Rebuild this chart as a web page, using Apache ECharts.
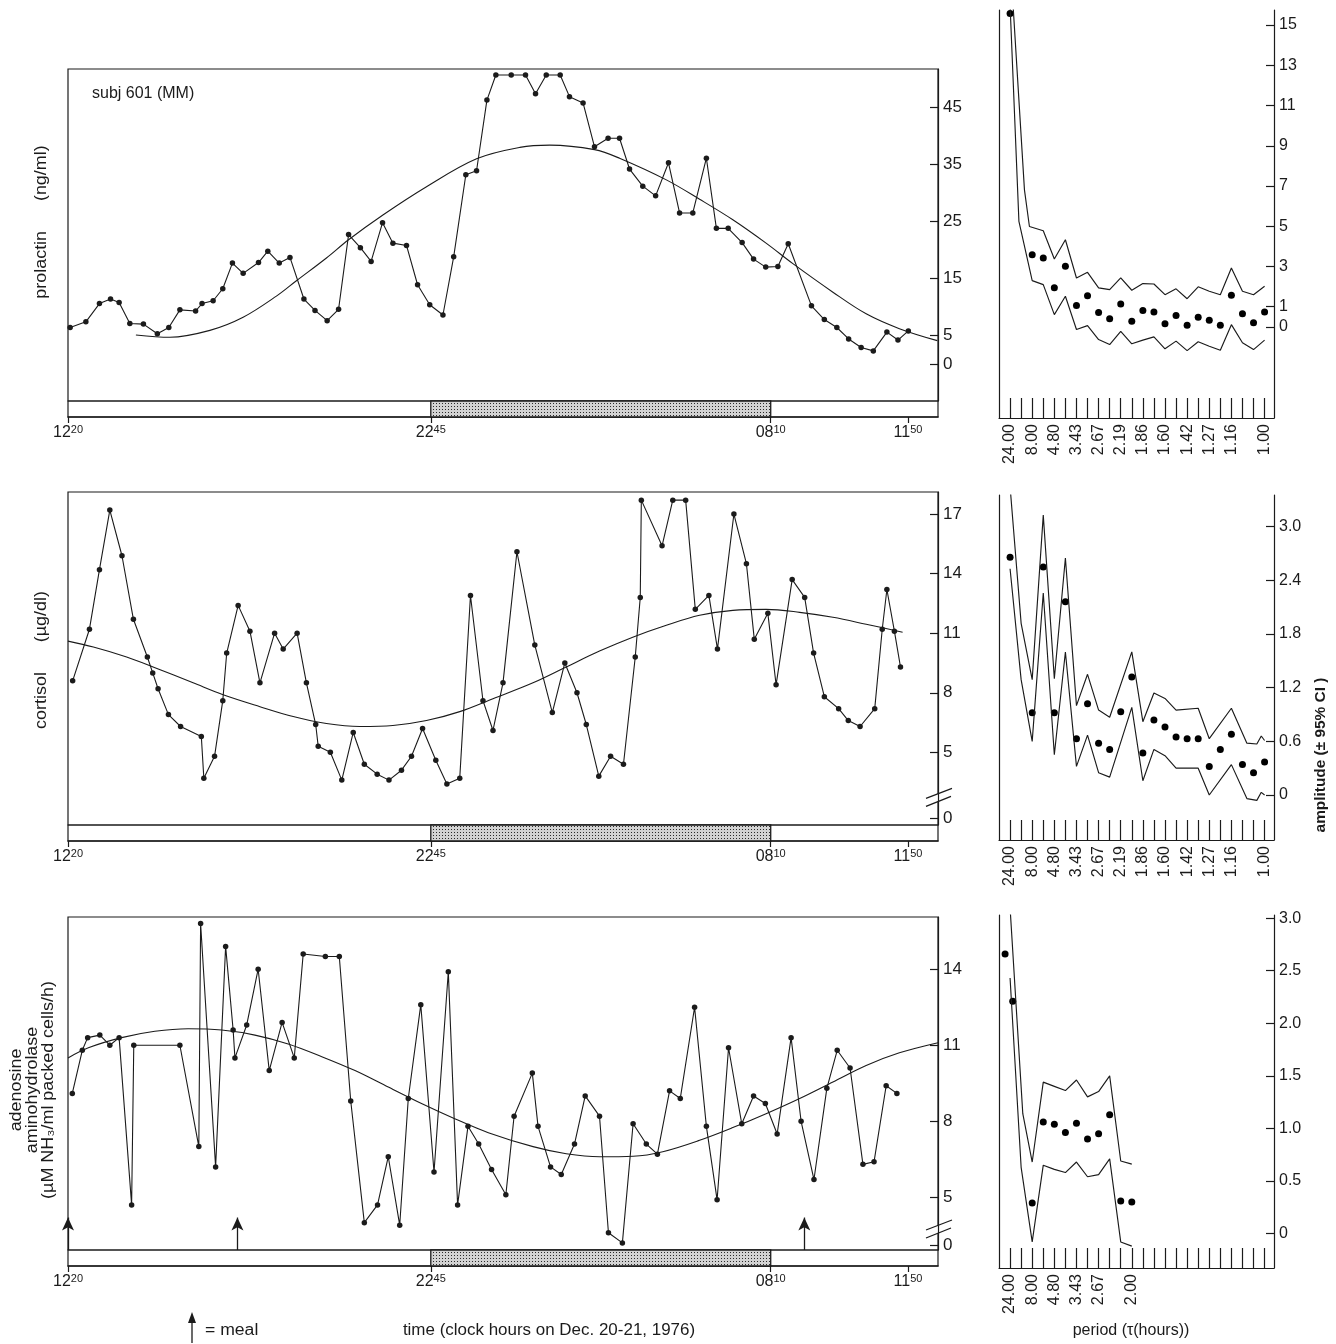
<!DOCTYPE html>
<html><head><meta charset="utf-8">
<script src="https://cdn.jsdelivr.net/npm/echarts@6/dist/echarts.min.js"></script>
<style>html,body{margin:0;padding:0;background:#fff}#c{width:1336px;height:1344px}</style>
</head><body><div id="c"></div>
<script>
// ---------------- data (time in hours after 12:20) ----------------
const timeTickValues = [0, 10.15, 19.66, 23.5];
const timeTickLabels = [['12','20'],['22','45'],['08','10'],['11','50']];
const darkPeriod = [10.15, 19.66];
const mealTimes = [0, 4.74, 20.6];

const prolactinT = [0.06,0.50,0.88,1.19,1.43,1.73,2.11,2.50,2.82,3.13,3.57,3.75,4.06,4.33,4.60,4.90,5.33,5.59,5.91,6.21,6.60,6.91,7.25,7.57,7.85,8.18,8.48,8.80,9.09,9.47,9.78,10.12,10.49,10.79,11.13,11.43,11.72,11.97,12.40,12.80,13.08,13.38,13.77,14.03,14.41,14.73,15.11,15.43,15.71,16.08,16.44,16.80,17.11,17.48,17.86,18.14,18.47,18.86,19.18,19.52,19.86,20.15,20.80,21.16,21.51,21.84,22.19,22.53,22.91,23.22,23.51];
const prolactinV = [6.4,7.4,10.6,11.4,10.8,7.1,7.0,5.3,6.4,9.5,9.3,10.6,11.1,13.2,17.7,15.9,17.8,19.8,17.7,18.7,11.4,9.4,7.6,9.6,22.7,20.4,18.0,24.8,21.2,20.8,13.9,10.4,8.6,18.8,33.2,33.9,46.3,50.7,50.7,50.7,47.4,50.7,50.7,46.9,45.8,38.1,39.6,39.6,34.2,31.2,29.5,35.3,26.5,26.5,36.1,23.8,23.8,21.3,18.4,17.0,17.1,21.1,10.2,7.8,6.4,4.4,2.9,2.3,5.6,4.2,5.8];
const prolactinFitT = [1.90,2.85,3.97,4.90,5.83,6.39,7.23,7.85,8.80,10.03,11.43,12.64,13.48,14.73,15.43,16.74,17.67,18.60,19.53,20.28,21.40,22.33,23.26,24.32];
const prolactinFitV = [5.1,4.7,5.9,8.2,11.9,14.6,18.6,21.8,26.1,31.1,36.0,38.0,38.4,37.6,36.1,32.3,28.9,25.3,21.2,17.6,12.6,8.8,6.2,4.1];
const prolactinTicks = [0,5,15,25,35,45];

const cortisolT = [0.13,0.60,0.88,1.17,1.51,1.83,2.22,2.37,2.52,2.81,3.15,3.73,3.80,4.10,4.33,4.44,4.76,5.09,5.37,5.78,6.02,6.41,6.67,6.93,7.00,7.34,7.66,7.98,8.29,8.65,8.98,9.33,9.61,9.92,10.29,10.60,10.96,11.26,11.61,11.89,12.17,12.56,13.06,13.55,13.90,14.24,14.50,14.85,15.18,15.54,15.87,16.01,16.04,16.62,16.92,17.28,17.55,17.93,18.17,18.63,18.98,19.20,19.58,19.81,20.26,20.61,20.86,21.16,21.56,21.83,22.16,22.57,22.78,22.91,23.12,23.29];
const cortisolV = [8.6,11.2,14.2,17.2,14.9,11.7,9.8,9.0,8.2,6.9,6.3,5.8,3.7,4.8,7.6,10.0,12.4,11.1,8.5,11.0,10.2,11.0,8.5,6.4,5.3,5.0,3.6,6.0,4.4,3.9,3.6,4.1,4.8,6.2,4.6,3.4,3.7,12.9,7.6,6.1,8.5,15.1,10.4,7.0,9.5,8.0,6.4,3.8,4.8,4.4,9.8,12.8,17.7,15.4,17.7,17.7,12.2,12.9,10.2,17.0,14.5,10.7,12.0,8.4,13.7,12.8,10.0,7.8,7.2,6.6,6.3,7.2,11.2,13.2,11.1,9.3];
const cortisolFitT = [0,0.71,1.64,2.38,3.50,4.34,5.37,6.30,7.23,8.16,9.09,10.03,10.96,11.89,13.01,13.94,14.87,15.80,16.74,17.67,18.60,19.53,20.47,21.40,22.33,23.35];
const cortisolFitV = [10.6,10.3,9.8,9.3,8.5,7.9,7.3,6.8,6.45,6.3,6.35,6.6,7.05,7.7,8.5,9.3,10.1,10.8,11.4,11.9,12.15,12.2,12.05,11.8,11.45,11.05];
const cortisolZeroPos = 1.68;      // where "0" sits below the axis break
const cortisolBreakPos = 2.73;
const cortisolTicks = [cortisolZeroPos,5,8,11,14,17];

const adenosineT = [0.12,0.40,0.55,0.89,1.17,1.43,1.78,1.84,3.13,3.66,3.71,4.13,4.41,4.62,4.67,5.00,5.32,5.63,5.99,6.33,6.58,7.20,7.59,7.91,8.29,8.66,8.96,9.28,9.52,9.87,10.24,10.64,10.90,11.19,11.49,11.85,12.25,12.48,12.99,13.15,13.50,13.80,14.17,14.47,14.87,15.12,15.51,15.81,16.18,16.49,16.83,17.13,17.53,17.86,18.16,18.48,18.85,19.18,19.51,19.84,20.23,20.51,20.87,21.23,21.52,21.88,22.24,22.55,22.89,23.19];
const adenosineV = [9.1,10.8,11.3,11.4,11.0,11.3,4.7,11.0,11.0,7.0,15.8,6.2,14.9,11.6,10.5,11.8,14.0,10.0,11.9,10.5,14.6,14.5,14.5,8.8,4.0,4.7,6.6,3.9,8.9,12.6,6.0,13.9,4.7,7.8,7.1,6.1,5.1,8.2,9.9,7.8,6.2,5.9,7.1,9.0,8.2,3.6,3.2,7.9,7.1,6.7,9.2,8.9,12.5,7.8,4.9,10.9,7.9,9.0,8.7,7.5,11.3,8.0,5.7,9.3,10.8,10.1,6.3,6.4,9.4,9.1];
const adenosineFitT = [0,0.57,1.50,2.43,3.36,4.30,5.23,6.16,7.10,8.03,8.96,9.89,10.82,11.76,13.01,13.94,14.87,15.81,16.64,17.67,18.60,19.53,20.47,21.40,22.33,23.26,24.34];
const adenosineFitV = [10.5,10.9,11.3,11.55,11.65,11.6,11.4,11.05,10.55,10.0,9.35,8.7,8.1,7.55,7.0,6.72,6.6,6.62,6.8,7.25,7.75,8.3,8.9,9.55,10.2,10.7,11.1];
const adenosineZeroPos = 3.09;
const adenosineBreakPos = 3.75;
const adenosineTicks = [adenosineZeroPos,5,8,11,14];

// ---------------- spectra: [harmonic, amplitude] ----------------
const harmonics = [1,2,3,4,5,6,7,8,9,10,11,12,13,14,15,16,17,18,19,20,21,22,23,24];
const periodLabelHarm = [1,3,5,7,9,11,13,15,17,19,21,24];
const periodLabels = ['24.00','8.00','4.80','3.43','2.67','2.19','1.86','1.60','1.42','1.27','1.16','1.00'];
const periodLabelHarmShort = [1,3,5,7,9,12];
const periodLabelsShort = ['24.00','8.00','4.80','3.43','2.67','2.00'];

const prlAmp = [[1,15.58],[3,3.59],[4,3.42],[5,1.94],[6,3.01],[7,1.06],[8,1.55],[9,0.72],[10,0.40],[11,1.14],[12,0.28],[13,0.81],[14,0.74],[15,0.16],[16,0.56],[17,0.08],[18,0.48],[19,0.33],[20,0.08],[21,1.57],[22,0.65],[23,0.20],[24,0.74]];
const prlUpper = [[1,18.4],[2.3,6.81],[2.75,4.99],[4,4.78],[5,3.37],[6,4.33],[7,2.43],[8,2.71],[9,1.94],[10,1.85],[11,2.43],[12,1.82],[13,2.15],[14,2.13],[15,1.60],[16,1.89],[17,1.40],[18,1.99],[19,1.77],[20,1.60],[21,2.93],[22,1.77],[23,1.60],[24,2.02]];
const prlLower = [[1,16.0],[1.8,5.24],[3,2.30],[4,2.10],[5,0.61],[6,1.52],[7,-0.13],[8,0.06],[9,-0.63],[10,-0.88],[11,-0.22],[12,-0.84],[13,-0.66],[14,-0.50],[15,-1.09],[16,-0.71],[17,-1.18],[18,-0.74],[19,-0.96],[20,-1.16],[21,0.11],[22,-0.79],[23,-1.13],[24,-0.66]];
const prlAmpTicks = [0,1,3,5,7,9,11,13,15];

const corAmp = [[1,2.66],[3,0.92],[4,2.55],[5,0.92],[6,2.16],[7,0.63],[8,1.02],[9,0.58],[10,0.51],[11,0.93],[12,1.32],[13,0.47],[14,0.84],[15,0.76],[16,0.65],[17,0.63],[18,0.63],[19,0.32],[20,0.51],[21,0.68],[22,0.34],[23,0.25],[24,0.37]];
const corUpper = [[1,3.45],[2,1.92],[3,1.29],[4,3.13],[5,1.30],[6,2.65],[7,1.00],[8,1.35],[9,0.95],[10,0.87],[12,1.60],[13,0.82],[14,1.14],[15,1.08],[16,0.95],[18,0.97],[19,0.63],[21,0.97],[22.4,0.58],[23.3,0.57],[23.7,0.66],[24,0.61]];
const corLower = [[1,2.53],[2,1.29],[3,0.60],[4,2.26],[5,0.45],[6,1.60],[7,0.32],[8,0.67],[9,0.25],[10,0.20],[12,0.98],[13,0.16],[14,0.51],[15,0.44],[16,0.30],[18,0.30],[19,0.00],[21,0.34],[22.4,-0.04],[23.3,-0.06],[23.7,0.03],[24,0.00]];
const corAmpTicks = [0,0.6,1.2,1.8,2.4,3.0];

const adaAmp = [[0.55,2.66],[1.24,2.21],[3,0.29],[4,1.06],[5,1.04],[6,0.96],[7,1.05],[8,0.90],[9,0.95],[10,1.13],[11,0.31],[12,0.30]];
const adaUpper = [[1,3.1],[2.15,1.14],[3,0.68],[4,1.44],[5,1.40],[6,1.36],[7,1.46],[8,1.30],[9,1.35],[10,1.50],[11,0.69],[12,0.66]];
const adaLower = [[1,2.43],[2,0.63],[3,-0.08],[4,0.65],[5,0.61],[6,0.58],[7,0.68],[8,0.54],[9,0.56],[10,0.71],[11,-0.08],[12,-0.12]];
const adaAmpTicks = [0,0.5,1.0,1.5,2.0,2.5,3.0];

// ---------------- styling / layout ----------------
const INK = '#1b1b1b';
const FONT = "'Liberation Sans', Arial, Helvetica, sans-serif";
const T_MAX = 24.34;
const H_MAX = 24.85;
const zip = (a, b) => a.map((x, i) => [x, b[i]]);
const near = (a, b) => Math.abs(a - b) < 1e-6;

const pc = document.createElement('canvas');
pc.width = 3; pc.height = 3;
const pctx = pc.getContext('2d');
pctx.fillStyle = '#d2d2d2'; pctx.fillRect(0, 0, 3, 3);
pctx.fillStyle = '#2a2a2a';
pctx.fillRect(1, 1, 1, 1);
const stipple = { image: pc, repeat: 'repeat' };

const gridBox = { show: true, borderColor: INK, borderWidth: 1.2, backgroundColor: 'transparent' };
const grids = [
  Object.assign({ left: 68, top: 69, width: 870, height: 332 }, gridBox),
  Object.assign({ left: 68, top: 401, width: 870, height: 16 }, gridBox),
  Object.assign({ left: 68, top: 492, width: 870, height: 333 }, gridBox),
  Object.assign({ left: 68, top: 825, width: 870, height: 16 }, gridBox),
  Object.assign({ left: 68, top: 917, width: 870, height: 333 }, gridBox),
  Object.assign({ left: 68, top: 1250, width: 870, height: 16 }, gridBox),
  { left: 999, top: 10, width: 275, height: 408, show: false },
  { left: 999, top: 495, width: 275, height: 345, show: false },
  { left: 999, top: 915, width: 275, height: 353, show: false }
];

const lineCol = { color: INK, width: 1.2 };
const timeFmt = v => {
  const i = timeTickValues.findIndex(x => near(x, v));
  return i < 0 ? '' : '{a|' + timeTickLabels[i][0] + '}{b|' + timeTickLabels[i][1] + '}';
};
function mainX(g) { return { type: 'value', gridIndex: g, min: 0, max: T_MAX, show: false }; }
function barX(g) {
  return {
    type: 'value', gridIndex: g, min: 0, max: T_MAX,
    axisLine: { show: true, onZero: false, lineStyle: { color: INK, width: 1.5 } },
    axisTick: { show: true, customValues: timeTickValues, length: 6, lineStyle: lineCol },
    axisLabel: {
      show: true, customValues: timeTickValues, formatter: timeFmt, margin: 7,
      rich: {
        a: { fontSize: 16, fontFamily: FONT, color: INK, lineHeight: 18 },
        b: { fontSize: 11, fontFamily: FONT, color: INK, verticalAlign: 'top', lineHeight: 11, padding: [0, 0, 7, 0] }
      }
    },
    splitLine: { show: false }
  };
}
function specX(g, labelHarm, labels) {
  return {
    type: 'value', gridIndex: g, min: 0, max: H_MAX,
    axisLine: { show: true, onZero: false, lineStyle: lineCol },
    axisTick: { show: true, inside: true, length: 20, customValues: harmonics, lineStyle: lineCol },
    axisLabel: {
      show: true, customValues: labelHarm, rotate: 90, margin: 6, fontSize: 16, fontFamily: FONT, color: INK,
      formatter: v => { const i = labelHarm.findIndex(x => near(x, v)); return i < 0 ? '' : labels[i]; }
    },
    splitLine: { show: false }
  };
}
function valY(g, min, max, ticks, fmt, fontSize) {
  return {
    type: 'value', gridIndex: g, position: 'right', min, max,
    axisLine: { show: true, onZero: false, lineStyle: lineCol },
    axisTick: { show: true, inside: true, length: 8, customValues: ticks, lineStyle: lineCol },
    axisLabel: { show: true, customValues: ticks, formatter: fmt, margin: 5, fontSize, fontFamily: FONT, color: INK },
    splitLine: { show: false }
  };
}
function hiddenY(g) { return { type: 'value', gridIndex: g, min: 0, max: 1, show: false }; }
function frameY(g) {
  return {
    type: 'value', gridIndex: g, position: 'left', min: 0, max: 1,
    axisLine: { show: true, onZero: false, lineStyle: lineCol },
    axisTick: { show: false }, axisLabel: { show: false }, splitLine: { show: false }
  };
}

const intFmt = v => String(Math.round(v));
const zeroFmt = zp => v => (near(v, zp) ? '0' : String(Math.round(v)));
const decFmt = v => (near(v, 0) ? '0' : v.toFixed(1));

const xAxis = [mainX(0), barX(1), mainX(2), barX(3), mainX(4), barX(5),
  specX(6, periodLabelHarm, periodLabels), specX(7, periodLabelHarm, periodLabels), specX(8, periodLabelHarmShort, periodLabelsShort)];
const yAxis = [
  valY(0, -6.49, 51.75, prolactinTicks, intFmt, 17), hiddenY(1),
  valY(2, 1.34, 18.11, cortisolTicks, zeroFmt(cortisolZeroPos), 17), hiddenY(3),
  valY(4, 2.92, 16.06, adenosineTicks, zeroFmt(adenosineZeroPos), 17), hiddenY(5),
  valY(6, -4.53, 15.75, prlAmpTicks, intFmt, 16),
  valY(7, -0.503, 3.355, corAmpTicks, decFmt, 16),
  valY(8, -0.328, 3.03, adaAmpTicks, decFmt, 16),
  frameY(6), frameY(7), frameY(8)
];

function dataLine(i, data, extra) {
  return Object.assign({
    type: 'line', xAxisIndex: i, yAxisIndex: i, data, symbol: 'circle', symbolSize: 5.5, showSymbol: true,
    lineStyle: { color: INK, width: 1.1 }, itemStyle: { color: INK, opacity: 1, borderWidth: 0 }, z: 4, silent: true, animation: false
  }, extra || {});
}
function fitLine(i, data) {
  return {
    type: 'line', xAxisIndex: i, yAxisIndex: i, data, smooth: 0.35, symbol: 'none',
    lineStyle: { color: INK, width: 1.1 }, z: 3, silent: true, animation: false
  };
}
function lightDark(i) {
  return {
    type: 'custom', xAxisIndex: i, yAxisIndex: i, data: [darkPeriod], silent: true, animation: false,
    renderItem: (params, api) => {
      const s = api.coord([api.value(0), 1]);
      const e = api.coord([api.value(1), 0]);
      return { type: 'rect', shape: { x: s[0], y: s[1], width: e[0] - s[0], height: e[1] - s[1] },
        style: { fill: stipple, stroke: INK, lineWidth: 1.3 } };
    }
  };
}
function ciLine(xi, yi, data) {
  return { type: 'line', xAxisIndex: xi, yAxisIndex: yi, data, symbol: 'none', clip: true,
    lineStyle: { color: INK, width: 1.15 }, silent: true, animation: false };
}
function ampDots(xi, yi, data) {
  return { type: 'scatter', xAxisIndex: xi, yAxisIndex: yi, data, symbol: 'circle', symbolSize: 7,
    itemStyle: { color: '#000', opacity: 1, borderWidth: 0 }, silent: true, animation: false };
}

const series = [
  fitLine(0, zip(prolactinFitT, prolactinFitV)),
  dataLine(0, zip(prolactinT, prolactinV)),
  lightDark(1),
  fitLine(2, zip(cortisolFitT, cortisolFitV)),
  dataLine(2, zip(cortisolT, cortisolV)),
  lightDark(3),
  fitLine(4, zip(adenosineFitT, adenosineFitV)),
  dataLine(4, zip(adenosineT, adenosineV), {
    markLine: {
      silent: true, animation: false, symbol: ['none', 'arrow'], symbolSize: [9, 13],
      label: { show: false }, lineStyle: { color: INK, width: 1.3, type: 'solid' },
      emphasis: { disabled: true },
      data: mealTimes.map(t => [{ coord: [t, 2.92] }, { coord: [t, 4.2] }])
    }
  }),
  lightDark(5),
  ciLine(6, 6, prlUpper), ciLine(6, 6, prlLower), ampDots(6, 6, prlAmp),
  ciLine(7, 7, corUpper), ciLine(7, 7, corLower), ampDots(7, 7, corAmp),
  ciLine(8, 8, adaUpper), ciLine(8, 8, adaLower), ampDots(8, 8, adaAmp)
];

const chart = echarts.init(document.getElementById('c'), null, { renderer: 'canvas' });
chart.setOption({
  animation: false, backgroundColor: '#fff',
  textStyle: { fontFamily: FONT, color: INK },
  grid: grids, xAxis, yAxis, series
});

function txt(text, x, y, opt) {
  opt = opt || {};
  return {
    type: 'text', x, y, rotation: opt.rot || 0, scaleX: opt.sx || 1, silent: true,
    style: {
      text, fill: INK, fontSize: opt.size || 16, fontFamily: FONT, fontWeight: opt.weight || 'normal',
      align: opt.align || 'center', verticalAlign: 'middle', textAlign: opt.align || 'center', textVerticalAlign: 'middle',
      lineHeight: opt.lh || 18
    }
  };
}
function breakMark(gridIndex, yVal) {
  const p = chart.convertToPixel({ gridIndex }, [T_MAX, yVal]);
  const cx = p[0], cy = p[1];
  return [
    { type: 'rect', silent: true, shape: { x: cx - 2.5, y: cy - 3.5, width: 5, height: 7.5 }, style: { fill: '#fff' } },
    { type: 'line', silent: true, shape: { x1: cx - 12, y1: cy + 1, x2: cx + 14, y2: cy - 9 }, style: { stroke: INK, lineWidth: 1.2 } },
    { type: 'line', silent: true, shape: { x1: cx - 12, y1: cy + 9, x2: cx + 13, y2: cy - 1 }, style: { stroke: INK, lineWidth: 1.2 } }
  ];
}
const R = Math.PI / 2;
const graphic = [
  txt('subj 601 (MM)', 92, 94, { align: 'left', size: 16 }),
  txt('prolactin      (ng/ml)', 42, 222, { rot: R, sx: 1.12 }),
  txt('cortisol      (\u00b5g/dl)', 42, 660, { rot: R, sx: 1.12 }),
  txt('adenosine\naminohydrolase\n(\u00b5M NH\u2083/ml packed cells/h)', 33, 1090, { rot: R, sx: 1.12, lh: 16 }),
  txt('amplitude (\u00b1 95% CI )', 1321, 755, { rot: R, weight: 'bold', size: 14, sx: 1.1 }),
  txt('period (\u03c4(hours))', 1131, 1331, { size: 16 }),
  txt('time (clock hours on Dec. 20-21, 1976)', 549, 1331, { size: 16, sx: 1.06 }),
  txt('= meal', 205, 1331, { align: 'left', size: 16, sx: 1.1 }),
  { type: 'line', silent: true, shape: { x1: 192, y1: 1343, x2: 192, y2: 1320 }, style: { stroke: INK, lineWidth: 1.3 } },
  { type: 'polygon', silent: true, shape: { points: [[192, 1312], [188, 1323], [196, 1323]] }, style: { fill: INK } }
].concat(breakMark(2, cortisolBreakPos), breakMark(4, adenosineBreakPos));
chart.setOption({ graphic });
</script></body></html>
